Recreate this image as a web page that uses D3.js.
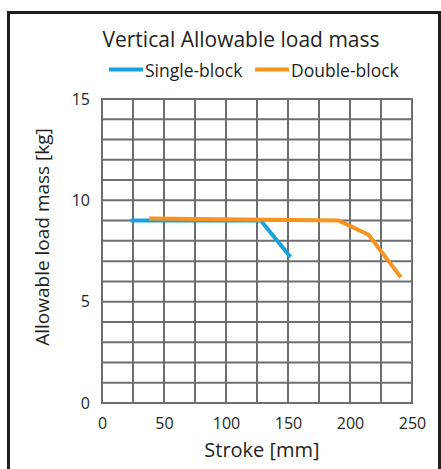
<!DOCTYPE html>
<html>
<head>
<meta charset="utf-8">
<script src="https://cdn.jsdelivr.net/npm/d3@7"></script>
<style>
  body { margin: 0; background: #fff; }
  svg text { font-family: "Open Sans", "Noto Sans", sans-serif; fill: #231f20; }
</style>
</head>
<body>
<div id="chart"></div>
<script>
var singleStroke = [23, 128, 152];
var singleMass = [9.0, 9.0, 7.2];
var doubleStroke = [38, 191, 215, 241];
var doubleMass = [9.1, 9.0, 8.3, 6.2];
var xTicks = [0, 50, 100, 150, 200, 250];
var yTicks = [0, 5, 10, 15];
var seriesNames = ["Single-block", "Double-block"];
var seriesColors = ["#1ba1db", "#f7931e"];

var W = 441, H = 469,
    margin = {left: 102, right: 29, top: 99, bottom: 66},
    width = W - margin.left - margin.right,
    height = H - margin.top - margin.bottom;

var svg = d3.select("#chart").append("svg")
    .attr("width", W).attr("height", H);

// outer frame
svg.append("rect")
    .attr("x", 8.5).attr("y", 12.5)
    .attr("width", 431).attr("height", 470)
    .attr("fill", "none").attr("stroke", "#231f20").attr("stroke-width", 3);

var x = d3.scaleLinear().domain([0, 250]).range([0, width]);
var y = d3.scaleLinear().domain([0, 15]).range([height, 0]);

var focus = svg.append("g")
    .attr("transform", "translate(" + margin.left + "," + margin.top + ")");

// grid
focus.append("g").selectAll("line")
    .data(d3.range(0, 251, 25))
  .enter().append("line")
    .attr("x1", function (d) { return x(d); }).attr("x2", function (d) { return x(d); })
    .attr("y1", 0).attr("y2", height)
    .attr("stroke", "#6d6e71").attr("stroke-width", 2);
focus.append("g").selectAll("line")
    .data(d3.range(0, 16, 1))
  .enter().append("line")
    .attr("y1", function (d) { return y(d); }).attr("y2", function (d) { return y(d); })
    .attr("x1", -1).attr("x2", width + 1)
    .attr("stroke", "#6d6e71").attr("stroke-width", 2);

// axes (labels only)
var xAxis = d3.axisBottom(x).tickValues(xTicks).tickSize(0).tickPadding(15);
var yAxis = d3.axisLeft(y).tickValues(yTicks).tickSize(0).tickPadding(12);
focus.append("g").attr("transform", "translate(0," + height + ")").call(xAxis)
    .call(function (g) { g.select(".domain").remove(); })
    .selectAll("text").style("font-size", "16px").attr("fill", "#231f20");
focus.append("g").call(yAxis)
    .call(function (g) { g.select(".domain").remove(); })
    .selectAll("text").style("font-size", "16px").attr("fill", "#231f20");

// series
var line = d3.line()
    .x(function (d) { return x(d[0]); })
    .y(function (d) { return y(d[1]); });
var series = [d3.zip(singleStroke, singleMass), d3.zip(doubleStroke, doubleMass)];
series.forEach(function (pts, i) {
  focus.append("path")
      .datum(pts)
      .attr("d", line)
      .attr("fill", "none")
      .attr("stroke", seriesColors[i])
      .attr("stroke-width", 4)
      .attr("stroke-linejoin", "round");
});

// titles
svg.append("text").attr("x", 241).attr("y", 47)
    .attr("text-anchor", "middle").style("font-size", "21px")
    .text("Vertical Allowable load mass");
svg.append("text").attr("x", 262).attr("y", 457)
    .attr("text-anchor", "middle").style("font-size", "20px")
    .text("Stroke [mm]");
svg.append("text")
    .attr("transform", "translate(49," + 237 + ") rotate(-90)")
    .attr("text-anchor", "middle").style("font-size", "19px")
    .text("Allowable load mass [kg]");

// legend
var legendX = [109, 255];
var lg = svg.append("g");
seriesNames.forEach(function (name, i) {
  lg.append("line")
      .attr("x1", legendX[i]).attr("x2", legendX[i] + 34)
      .attr("y1", 69.5).attr("y2", 69.5)
      .attr("stroke", seriesColors[i]).attr("stroke-width", 4);
  lg.append("text")
      .attr("x", legendX[i] + 36).attr("y", 77)
      .style("font-size", "17.5px")
      .text(name);
});
</script>
</body>
</html>
